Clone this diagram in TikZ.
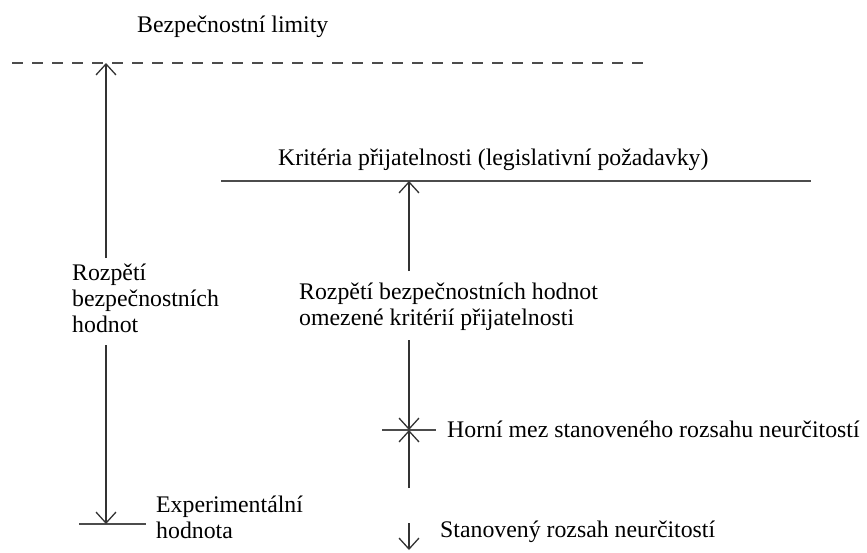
\documentclass[tikz,border=0pt]{standalone}
\usepackage{fontspec}
\setmainfont{Liberation Serif}
\usetikzlibrary{arrows.meta}

\tikzset{
  guide/.style={draw=black!70, line width=1.5pt},
  dimarrow/.style={draw=black!80, line width=1.3pt, -{Straight Barb[length=11pt,width=20pt]}},
  lbl/.style={inner sep=0pt, anchor=base west, align=left},
}

\begin{document}
\begin{tikzpicture}[x=1pt,y=-1pt,font=\fontsize{23.8}{26}\selectfont]
        \useasboundingbox (0,0) rectangle (867,552);
        % limit lines
        \node[lbl] (limity) at (137,32) {Bezpečnostní limity};
        \draw[guide,dash pattern=on 11pt off 9pt] (12,63) coordinate (lim-l) -- (650,63) coordinate (lim-r);
        \node[lbl] (kriteria) at (278,165) {Kritéria přijatelnosti (legislativní požadavky)};
        \draw[guide] (221,181) coordinate (krit-l) -- (811,181) coordinate (krit-r);
        \draw[guide] (79,524) coordinate (exp-l) -- (146,524) coordinate (exp-r);
        \node[lbl] (experiment) at (156,538) {Experimentální\\hodnota};
        \draw[guide] (382,430) coordinate (mez-l) -- (436,430) coordinate (mez-r);
        \node[lbl] (mez) at (447,437) {Horní mez stanoveného rozsahu neurčitostí};
        \node[lbl] (rozsah) at (440,537) {Stanovený rozsah neurčitostí};
        % arrow ends on the lines
        \coordinate (lim-a) at (106,63);
        \coordinate (exp-a) at (106,524);
        \coordinate (krit-a) at (409,181);
        \coordinate (mez-a) at (409,430);
        \coordinate (rozsah-top) at (409,488);
        \coordinate (rozsah-from) at (409,523);
        \coordinate (rozsah-to) at (409,550);
        % left range
        \node[lbl] (rozpeti) at (72,332) {Rozpětí\\bezpečnostních\\hodnot};
        \draw[dimarrow] ([yshift=5pt]rozpeti.north -| lim-a) -- (lim-a);
        \draw[dimarrow] ([yshift=-13pt]rozpeti.south -| exp-a) -- (exp-a);
        % middle range
        \node[lbl] (omezene) at (299,325) {Rozpětí bezpečnostních hodnot\\omezené kritérií přijatelnosti};
        \draw[dimarrow] ([yshift=11pt]omezene.north -| krit-a) -- (krit-a);
        \draw[dimarrow] ([yshift=-10pt]omezene.south -| mez-a) -- (mez-a);
        % uncertainty range
        \draw[dimarrow] (rozsah-top) -- (mez-a);
        \draw[dimarrow] (rozsah-from) -- (rozsah-to);
    \end{tikzpicture}
\end{document}
